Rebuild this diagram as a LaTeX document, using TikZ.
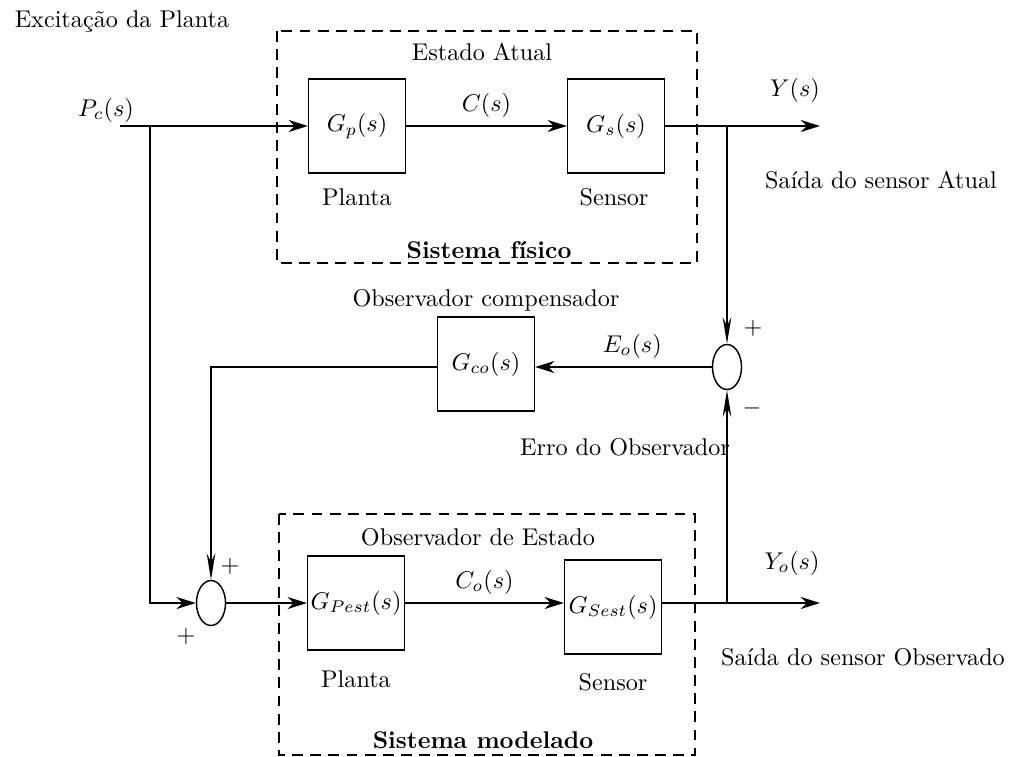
\documentclass[tikz,border=0pt]{standalone}
\usepackage{tikz}
\usetikzlibrary{arrows.meta, positioning, shapes.geometric}

\begin{document}
\begin{tikzpicture}[
    x=0.4132pt, y=-0.4132pt,
    bloco/.style={rectangle, draw, semithick, minimum width=40pt,
                  minimum height=39pt, inner sep=1pt},
    soma/.style={ellipse, draw, semithick, minimum width=12pt,
                 minimum height=18.6pt, inner sep=0pt},
    limite/.style={draw, line width=0.5pt, dash pattern=on 4.5pt off 3pt},
    seta/.style={-{Stealth[length=8pt, width=5pt]}, semithick},
    setav/.style={-{Stealth[length=11pt, width=3.6pt]}, semithick}
  ]
    \useasboundingbox (0,0) rectangle (1018,756);
    % sistemas
    \draw[limite] (277,31) rectangle (697,263);
    \draw[limite] (279,514) rectangle (695,755);
    % blocos
    \node[bloco] (gp) at (357,126) {$G_p(s)$};
    \node[bloco] (gs) at (616,126) {$G_s(s)$};
    \node[bloco] (gco) at (486,364) {$G_{co}(s)$};
    \node[bloco] (gpest) at (356,603) {$G_{Pest}(s)$};
    \node[bloco] (gsest) at (613,607) {$G_{Sest}(s)$};
    \node[soma] (erro$_o$) at (727,367) {};
    \node[soma] (soma$_o$) at (211,603) {};
    \coordinate (pc) at (120,126);
    \coordinate (ramo$_p$) at (150,126);
    \coordinate (ramo$_y$) at (727,126);
    \coordinate (ramo$_{yo}$) at (727,603);
    \coordinate (y) at (820,126);
    \coordinate (yo) at (820,603);
    % textos
    \node (excita) at (122,22) {Excitação da Planta};
    \node (pclab) at (106,110) {$P_c(s)$};
    \node (atual) at (482,52) {Estado Atual};
    \node (planta1) at (357,197) {Planta};
    \node (sensor1) at (614,197) {Sensor};
    \node[font=\bfseries] (fisico) at (489,250) {Sistema físico};
    \node (ylab) at (795,90) {$Y(s)$};
    \node (saida1) at (881,180) {Saída do sensor Atual};
    \node (comp) at (486,300) {Observador compensador};
    \node (mais1) at (753,328) {$+$};
    \node (menos1) at (752,408) {$-$};
    \node (erro) at (625,447) {Erro do Observador};
    \node (mais2) at (230,566) {$+$};
    \node (mais3) at (186,636) {$+$};
    \node (obsest) at (478,537) {Observador de Estado};
    \node (planta2) at (356,679) {Planta};
    \node (sensor2) at (613,682) {Sensor};
    \node[font=\bfseries] (modelado) at (483,740) {Sistema modelado};
    \node (yolab) at (792,563) {$Y_o(s)$};
    \node (saida2) at (863,657) {Saída do sensor Observado};
    % ligacoes
    \draw[seta] (pc) -- (gp);
    \draw[seta] (gp) -- node[above] {$C(s)$} (gs);
    \draw[seta] (gs) -- (y);
    \draw[setav] (ramo$_y$) -- (erro$_o$.north);
    \draw[setav] (ramo$_{yo}$) -- (erro$_o$.south);
    \draw[seta] (erro$_o$) -- node[above, pos=0.45] {$E_o(s)$} (erro$_o$ -| gco.east);
    \draw[setav] (gco.west |- erro$_o$) -| (soma$_o$.north);
    \draw[seta] (ramo$_p$) |- (soma$_o$.west);
    \draw[seta] (soma$_o$) -- (soma$_o$ -| gpest.west);
    \draw[seta] (gpest) -- node[above] {$C_o(s)$} (gpest -| gsest.west);
    \draw[seta] (gsest.east |- yo) -- (yo);
  \end{tikzpicture}
\end{document}
